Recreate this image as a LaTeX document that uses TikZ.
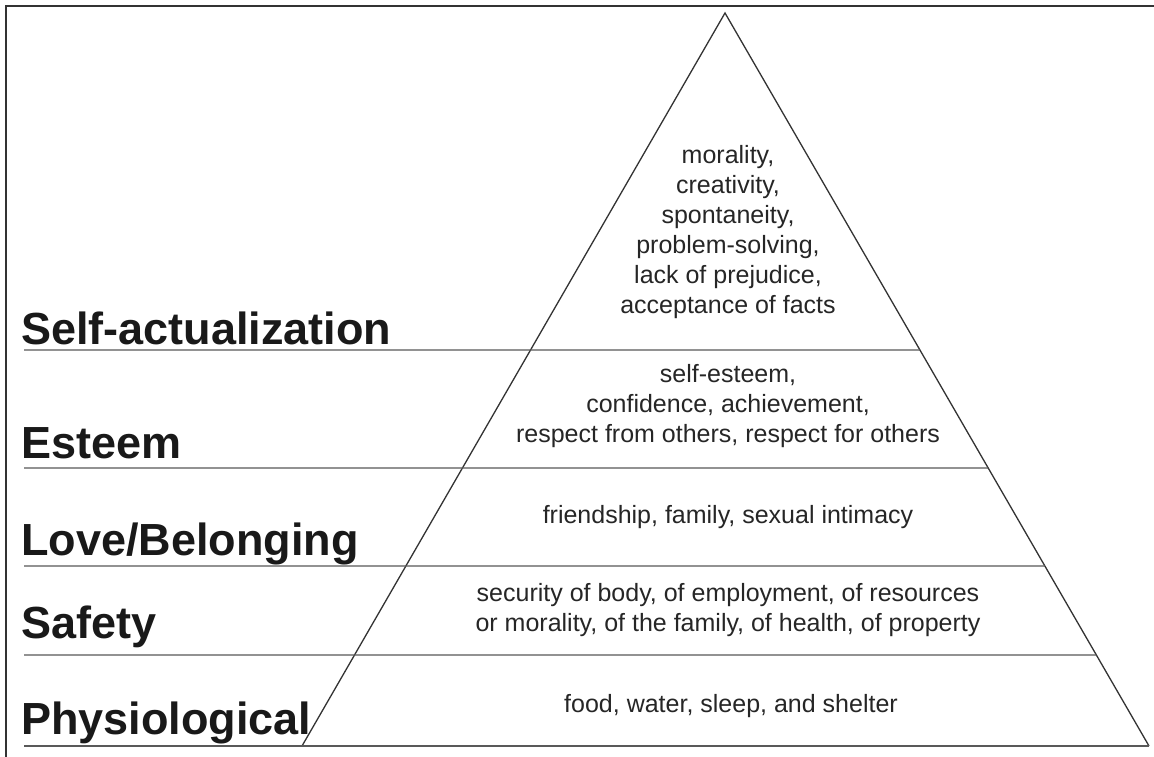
\documentclass[tikz,border=0pt]{standalone}
\usepackage{fontspec}
\setmainfont{Liberation Sans}
\usetikzlibrary{calc}
\begin{document}
\begin{tikzpicture}[x=1pt,y=-1pt,
  frameline/.style={draw=black!80, line width=2pt},
  levelline/.style={draw=black!65, line width=1.4pt},
  edgeline/.style={draw=black!80, line width=1.3pt, line join=miter},
  levellabel/.style={anchor=base west, inner sep=0pt, font=\fontsize{45}{54}\selectfont\bfseries, text=black!90},
  needs/.style={anchor=base, inner sep=0pt, align=center, font=\fontsize{25}{30}\selectfont, text=black!85}]
\useasboundingbox (0,0) rectangle (1154,757);
\fill[white] (0,0) rectangle (1154,757);
% frame
\coordinate (fr0) at (6,757);
\coordinate (fr1) at (6,6);
\coordinate (fr2) at (1154,6);
\draw[frameline] (fr0) -- (fr1) -- (fr2);
% pyramid
\coordinate (apex) at (725,13);
\coordinate (bl) at (302,746);
\coordinate (br) at (1149,746);
\draw[edgeline] (bl) -- (apex) -- (br);
% level lines
\coordinate (s1) at (24,350);
\coordinate (s2) at (24,468);
\coordinate (s3) at (24,566);
\coordinate (s4) at (24,655);
\coordinate (s5) at (24,746);
\coordinate (e1) at ($(apex)!{337/733}!(br)$);
\coordinate (e2) at ($(apex)!{455/733}!(br)$);
\coordinate (e3) at ($(apex)!{553/733}!(br)$);
\coordinate (e4) at ($(apex)!{642/733}!(br)$);
\draw[levelline] (s1) -- (e1);
\draw[levelline] (s2) -- (e2);
\draw[levelline] (s3) -- (e3);
\draw[levelline] (s4) -- (e4);
\draw[levelline] (s5) -- (br);
% labels
\node[levellabel] (lab1) at (21,344) {Self-actualization};
\node[levellabel] (lab2) at (21,458) {Esteem};
\node[levellabel] (lab3) at (21,555) {Love/Belonging};
\node[levellabel] (lab4) at (21,638) {Safety};
\node[levellabel] (lab5) at (21,734) {Physiological};
% contents (anchor base = baseline of the last line)
\node[needs] (t1) at (728,313) {morality,\\creativity,\\spontaneity,\\problem-solving,\\lack of prejudice,\\acceptance of facts};
\node[needs] (t2) at (728,442) {self-esteem,\\confidence, achievement,\\respect from others, respect for others};
\node[needs] (t3) at (728,523) {friendship, family, sexual intimacy};
\node[needs] (t4) at (728,631) {security of body, of employment, of resources\\or morality, of the family, of health, of property};
\node[needs] (t5) at (731,712) {food, water, sleep, and shelter};
\end{tikzpicture}
\end{document}
